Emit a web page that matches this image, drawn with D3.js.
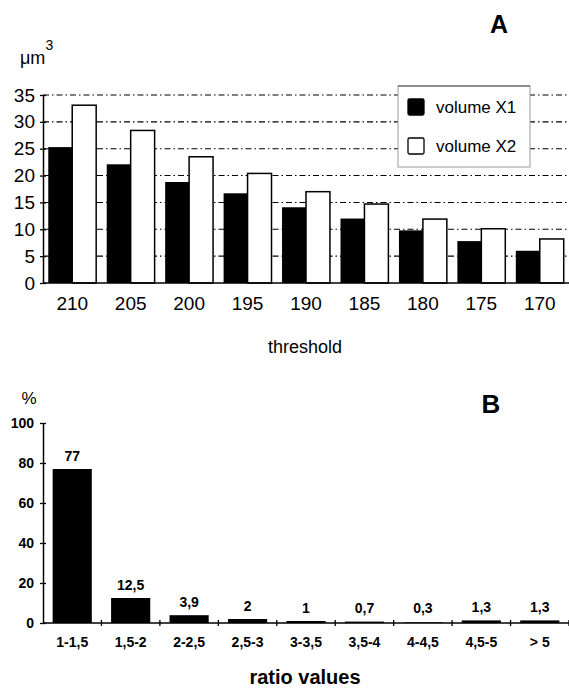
<!DOCTYPE html>
<html>
<head>
<meta charset="utf-8">
<script src="https://cdn.jsdelivr.net/npm/d3@7"></script>
<style>
  html, body { margin: 0; padding: 0; background: #fff; }
  svg { display: block; }
  text { font-family: "Liberation Sans", Arial, Helvetica, sans-serif; fill: #000; }
</style>
</head>
<body>
<svg id="chart" width="569" height="688"></svg>
<script>
// ---- Data (panel A) ----
const thresholds = ["210", "205", "200", "195", "190", "185", "180", "175", "170"];
const volumeX1 = [25.3, 22.1, 18.8, 16.7, 14.1, 12.0, 9.8, 7.8, 6.0];
const volumeX2 = [33.1, 28.4, 23.5, 20.4, 17.0, 14.7, 11.9, 10.1, 8.2];
const seriesA = ["volume X1", "volume X2"];
const yTicksA = [0, 5, 10, 15, 20, 25, 30, 35];

// ---- Data (panel B) ----
const ratioCats = ["1-1,5", "1,5-2", "2-2,5", "2,5-3", "3-3,5", "3,5-4", "4-4,5", "4,5-5", "> 5"];
const ratioPct = [77, 12.5, 3.9, 2, 1, 0.7, 0.3, 1.3, 1.3];
const yTicksB = [0, 20, 40, 60, 80, 100];

const svg = d3.select("#chart");
const commaFmt = d3.formatLocale({decimal: ",", thousands: ".", grouping: [3], currency: ["", ""]}).format("~g");

// ================= PANEL A =================
const gA = svg.append("g");
const xA = d3.scaleBand().domain(thresholds).range([43, 569]).padding(0);
const subA = d3.scaleBand().domain(seriesA).range([0, xA.bandwidth()]).paddingInner(0).paddingOuter(0.22);
const yA = d3.scaleLinear().domain([0, 35]).range([283, 95]);

// dash-dot gridlines
gA.append("g").selectAll("line").data(yTicksA.filter(d => d > 0)).join("line")
  .attr("x1", 43).attr("x2", 569)
  .attr("y1", d => yA(d)).attr("y2", d => yA(d))
  .attr("stroke", "#000").attr("stroke-width", 1.1)
  .attr("stroke-dasharray", "6,3,1.5,3");

// bars
const rowsA = thresholds.map((t, i) => ({t, vals: [volumeX1[i], volumeX2[i]]}));
const grp = gA.append("g").selectAll("g").data(rowsA).join("g")
  .attr("transform", d => `translate(${xA(d.t)},0)`);
grp.selectAll("rect").data(d => d.vals.map((v, k) => ({k, v}))).join("rect")
  .attr("x", d => subA(seriesA[d.k]))
  .attr("width", subA.bandwidth())
  .attr("y", d => yA(d.v))
  .attr("height", d => yA(0) - yA(d.v))
  .attr("fill", d => d.k === 0 ? "#000" : "#fff")
  .attr("stroke", "#000")
  .attr("stroke-width", d => d.k === 0 ? 0 : 1.5);

// legend
const leg = gA.append("g");
leg.append("rect").attr("x", 398).attr("y", 86).attr("width", 132).attr("height", 81)
  .attr("fill", "#fff").attr("stroke", "#999").attr("stroke-width", 1);
leg.append("line").attr("x1", 398).attr("x2", 530).attr("y1", 86).attr("y2", 86)
  .attr("stroke", "#777").attr("stroke-width", 1.5);
seriesA.forEach((s, k) => {
  const cy = k === 0 ? 107 : 146;
  leg.append("rect").attr("x", 408).attr("y", cy - 8).attr("width", 16).attr("height", 16)
    .attr("fill", k === 0 ? "#000" : "#fff").attr("stroke", "#000").attr("stroke-width", 1.3)
    .attr("rx", 1.5);
  leg.append("text").attr("x", 436).attr("y", cy).attr("dy", "0.35em")
    .style("font-size", "17px").text(s);
});

// axes A
const yAxisA = d3.axisLeft(yA).tickValues(yTicksA).tickSize(0).tickPadding(10);
const yaG = gA.append("g").attr("transform", "translate(43,0)").call(yAxisA);
yaG.select(".domain").attr("stroke", "#000").attr("stroke-width", 1.5);
yaG.selectAll(".tick text").style("font-size", "19px").attr("x", -8);
yaG.selectAll(".tick").append("line").attr("x1", -3).attr("x2", 3).attr("stroke", "#000").attr("stroke-width", 1.3);

gA.append("line").attr("x1", 43).attr("x2", 569).attr("y1", yA(0)).attr("y2", yA(0))
  .attr("stroke", "#000").attr("stroke-width", 1.5);

const xAxisA = d3.axisBottom(xA).tickSize(0).tickPadding(14);
const xaG = gA.append("g").attr("transform", `translate(0,${yA(0)})`).call(xAxisA);
xaG.select(".domain").remove();
xaG.selectAll(".tick text").style("font-size", "19px");

gA.append("text").attr("x", 305).attr("y", 347).attr("dy", "0.35em").attr("text-anchor", "middle")
  .style("font-size", "18px").text("threshold");

const unit = gA.append("text").attr("x", 20).attr("y", 64).style("font-size", "18px");
unit.append("tspan").text("μm");
unit.append("tspan").attr("dy", -14).style("font-size", "14px").text("3");

gA.append("text").attr("x", 499).attr("y", 24).attr("dy", "0.35em").attr("text-anchor", "middle")
  .style("font-size", "25px").style("font-weight", "bold").text("A");

// ================= PANEL B =================
const gB = svg.append("g");
const xB = d3.scaleBand().domain(ratioCats).range([43, 569]).paddingInner(0.33).paddingOuter(0.165);
const yB = d3.scaleLinear().domain([0, 100]).range([623, 423]);

gB.append("g").selectAll("rect").data(ratioCats.map((c, i) => ({c, v: ratioPct[i]}))).join("rect")
  .attr("x", d => xB(d.c)).attr("width", xB.bandwidth())
  .attr("y", d => yB(d.v)).attr("height", d => yB(0) - yB(d.v))
  .attr("fill", "#000");

gB.append("g").selectAll("text").data(ratioCats.map((c, i) => ({c, v: ratioPct[i]}))).join("text")
  .attr("x", d => xB(d.c) + xB.bandwidth() / 2)
  .attr("y", d => Math.min(yB(d.v), yB(0) - 2) - 13)
  .attr("dy", "0.35em").attr("text-anchor", "middle")
  .style("font-size", "14px").style("font-weight", "bold")
  .text(d => commaFmt(d.v));

// y axis B
const yAxisB = d3.axisLeft(yB).tickValues(yTicksB).tickSize(0).tickPadding(10);
const ybG = gB.append("g").attr("transform", "translate(43,0)").call(yAxisB);
ybG.select(".domain").attr("stroke", "#000").attr("stroke-width", 1.5);
ybG.selectAll(".tick text").style("font-size", "14px").style("font-weight", "bold").attr("x", -9);
ybG.selectAll(".tick").append("line").attr("x1", -3).attr("x2", 3).attr("stroke", "#000").attr("stroke-width", 1.3);

// x axis B
gB.append("line").attr("x1", 43).attr("x2", 569).attr("y1", yB(0)).attr("y2", yB(0))
  .attr("stroke", "#000").attr("stroke-width", 1.5);
const boundaries = d3.range(ratioCats.length + 1).map(i => 43 + i * xB.step());
gB.append("g").selectAll("line").data(boundaries.slice(1)).join("line")
  .attr("x1", d => d).attr("x2", d => d)
  .attr("y1", yB(0) - 3).attr("y2", yB(0) + 3)
  .attr("stroke", "#000").attr("stroke-width", 1.3);

const xAxisB = d3.axisBottom(xB).tickSize(0).tickPadding(14);
const xbG = gB.append("g").attr("transform", `translate(0,${yB(0)})`).call(xAxisB);
xbG.select(".domain").remove();
xbG.selectAll(".tick text").style("font-size", "14px").style("font-weight", "bold");

gB.append("text").attr("x", 305).attr("y", 677).attr("dy", "0.35em").attr("text-anchor", "middle")
  .style("font-size", "20px").style("font-weight", "bold").text("ratio values");

gB.append("text").attr("x", 29).attr("y", 398).attr("dy", "0.35em").attr("text-anchor", "middle")
  .style("font-size", "17px").text("%");

gB.append("text").attr("x", 491).attr("y", 404).attr("dy", "0.35em").attr("text-anchor", "middle")
  .style("font-size", "26px").style("font-weight", "bold").text("B");
</script>
</body>
</html>
